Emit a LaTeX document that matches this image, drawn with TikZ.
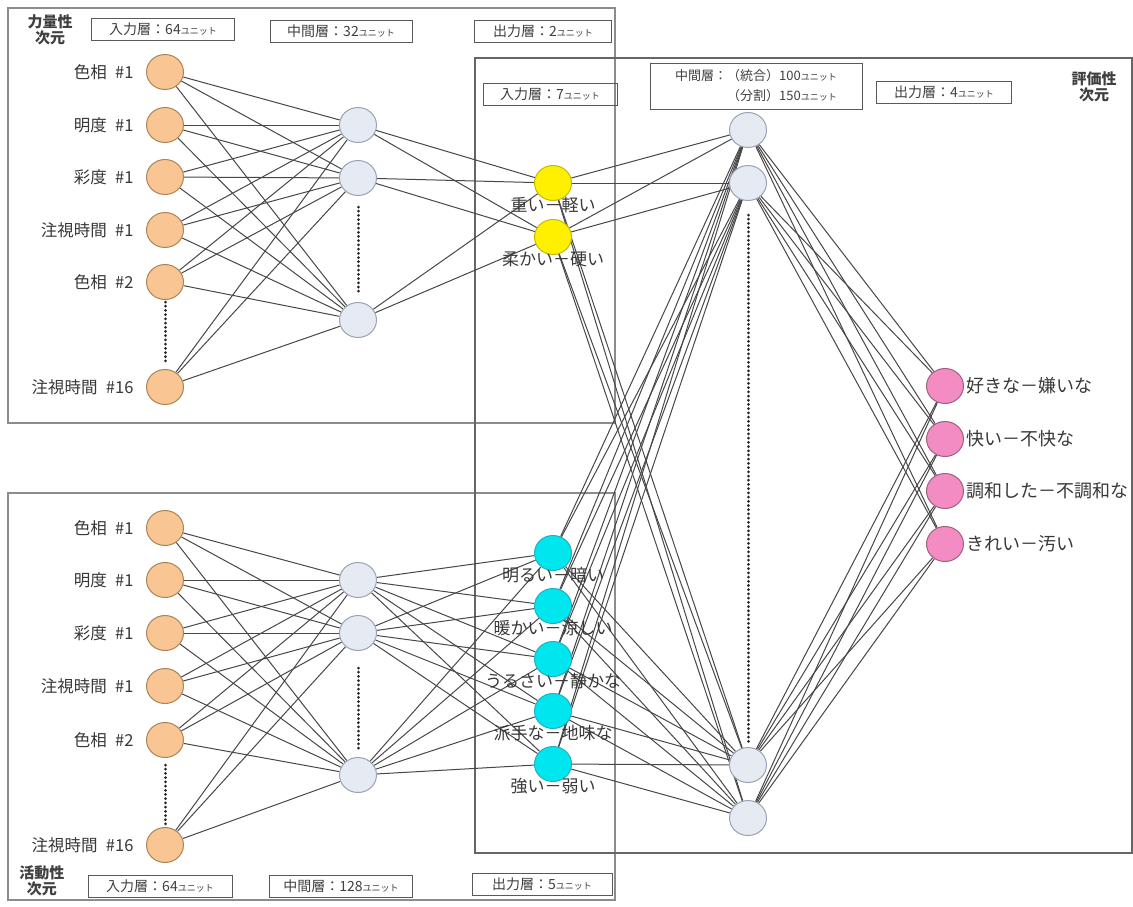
\documentclass[tikz,border=0pt]{standalone}
\usepackage{fontspec}
\setmainfont{Noto Sans CJK JP}
\usetikzlibrary{shapes.geometric,backgrounds}
\definecolor{inO}{HTML}{F9C592}
\definecolor{inOb}{HTML}{A98559}
\definecolor{hidF}{HTML}{E6EAF3}
\definecolor{hidB}{HTML}{9AA3B3}
\definecolor{yelF}{HTML}{FFF000}
\definecolor{yelB}{HTML}{C9B800}
\definecolor{cyF}{HTML}{00E6EF}
\definecolor{cyB}{HTML}{22AFC0}
\definecolor{pkF}{HTML}{F38CC3}
\definecolor{pkB}{HTML}{A0607E}
\definecolor{wire}{HTML}{474747}
\definecolor{frameC}{HTML}{8C8C8C}
\newcommand{\un}{{\fontsize{9}{10}\selectfont ユニット}}
\tikzset{
  neuron/.style={ellipse,minimum width=37pt,minimum height=35pt,inner sep=0pt,line width=1pt},
  inpn/.style={neuron,fill=inO,draw=inOb},
  hidn/.style={neuron,fill=hidF,draw=hidB},
  yeln/.style={neuron,fill=yelF,draw=yelB},
  cyn/.style={neuron,fill=cyF,draw=cyB},
  pkn/.style={neuron,fill=pkF,draw=pkB},
  inlab/.style={label distance=9pt,font=\fontsize{16.5}{17}\selectfont,text=black!78},
  outlab/.style={label distance=-7pt,font=\fontsize{17}{18}\selectfont,text=black!78},
  pklab/.style={label distance=-1pt,font=\fontsize{18}{19}\selectfont,text=black!78},
  hdr/.style={draw=black!65,line width=1pt,minimum height=22pt,inner sep=2pt,font=\fontsize{14}{15}\selectfont,text=black!75},
  dimlab/.style={align=center,font=\fontsize{15}{16}\selectfont\bfseries,text=black!75},
  wirel/.style={draw=wire,line width=1pt},
  dotl/.style={draw=black!85,line width=3pt,line cap=round,dash pattern=on 0.01pt off 4.2pt},
  framel/.style={draw=frameC,line width=1.8pt},
  framer/.style={draw=black!60,line width=1.2pt}
}
\begin{document}
\begin{tikzpicture}[x=1pt,y=-1pt]
\useasboundingbox (0,0) rectangle (1133,906);
% top block nodes
\node[inpn,label={[inlab]left:色相\enspace\#1}] (ti1) at (165,72) {};
\node[inpn,label={[inlab]left:明度\enspace\#1}] (ti2) at (165,125) {};
\node[inpn,label={[inlab]left:彩度\enspace\#1}] (ti3) at (165,177) {};
\node[inpn,label={[inlab]left:注視時間\enspace\#1}] (ti4) at (165,230) {};
\node[inpn,label={[inlab]left:色相\enspace\#2}] (ti5) at (165,282) {};
\node[inpn,label={[inlab]left:注視時間\enspace\#16}] (ti6) at (165,387) {};
\node[hidn] (th1) at (358,125) {};
\node[hidn] (th2) at (358,178) {};
\node[hidn] (th3) at (358,320) {};
\node[yeln,label={[outlab]below:重い－軽い}] (y1) at (553,183) {};
\node[yeln,label={[outlab]below:柔かい－硬い}] (y2) at (553,237) {};
% bottom block nodes
\node[inpn,label={[inlab]left:色相\enspace\#1}] (bi1) at (165,528) {};
\node[inpn,label={[inlab]left:明度\enspace\#1}] (bi2) at (165,580) {};
\node[inpn,label={[inlab]left:彩度\enspace\#1}] (bi3) at (165,633) {};
\node[inpn,label={[inlab]left:注視時間\enspace\#1}] (bi4) at (165,686) {};
\node[inpn,label={[inlab]left:色相\enspace\#2}] (bi5) at (165,740) {};
\node[inpn,label={[inlab]left:注視時間\enspace\#16}] (bi6) at (165,845) {};
\node[hidn] (bh1) at (358,580) {};
\node[hidn] (bh2) at (358,633) {};
\node[hidn] (bh3) at (358,775) {};
\node[cyn,label={[outlab]below:明るい－暗い}] (c1) at (553,553) {};
\node[cyn,label={[outlab]below:暖かい－涼しい}] (c2) at (553,606) {};
\node[cyn,label={[outlab]below:うるさい－静かな}] (c3) at (553,659) {};
\node[cyn,label={[outlab]below:派手な－地味な}] (c4) at (553,711) {};
\node[cyn,label={[outlab]below:強い－弱い}] (c5) at (553,764) {};
% right block nodes
\node[hidn] (H1) at (748,130) {};
\node[hidn] (H2) at (748,183) {};
\node[hidn] (H3) at (748,765) {};
\node[hidn] (H4) at (748,818) {};
\node[pkn,label={[pklab]right:好きな－嫌いな}] (p1) at (945,386) {};
\node[pkn,label={[pklab]right:快い－不快な}] (p2) at (945,439) {};
\node[pkn,label={[pklab]right:調和した－不調和な}] (p3) at (945,491) {};
\node[pkn,label={[pklab]right:きれい－汚い}] (p4) at (945,544) {};
% headers
\node[dimlab] (dimA) at (50,30) {力量性\\次元};
\node[hdr,minimum width=143pt] (hA1) at (163,29) {入力層：64\un};
\node[hdr,minimum width=142pt] (hA2) at (341,31) {中間層：32\un};
\node[hdr,minimum width=137pt] (hA3) at (543,31) {出力層：2\un};
\node[dimlab] (dimB) at (42,881) {活動性\\次元};
\node[hdr,minimum width=144pt] (hB1) at (160,886) {入力層：64\un};
\node[hdr,minimum width=143pt] (hB2) at (341,886) {中間層：128\un};
\node[hdr,minimum width=140pt] (hB3) at (542,884) {出力層：5\un};
\node[hdr,minimum width=134pt] (hC1) at (550,94) {入力層：7\un};
\node[hdr,minimum width=212pt,minimum height=46pt,align=right,font=\fontsize{13}{20}\selectfont] (hC2) at (756,86) {中間層：（統合）100\un\\（分割）150\un};
\node[hdr,minimum width=135pt] (hC3) at (944,92) {出力層：4\un};
\node[dimlab] (dimC) at (1094,87) {評価性\\次元};
% dot markers
\coordinate (d1a) at (165,302); \coordinate (d1b) at (165,362);
\coordinate (d2a) at (358,207); \coordinate (d2b) at (358,295);
\coordinate (d3a) at (165,765); \coordinate (d3b) at (165,825);
\coordinate (d4a) at (358,668); \coordinate (d4b) at (358,752);
\coordinate (d5a) at (748,215); \coordinate (d5b) at (748,742);
\draw[dotl] (d1a) -- (d1b);
\draw[dotl] (d2a) -- (d2b);
\draw[dotl] (d3a) -- (d3b);
\draw[dotl] (d4a) -- (d4b);
\draw[dotl] (d5a) -- (d5b);
\begin{scope}[on background layer]
\fill[white] (0,0) rectangle (1133,906);
\coordinate (fA1) at (8,8); \coordinate (fA2) at (615,423);
\coordinate (fB1) at (8,493); \coordinate (fB2) at (615,900);
\coordinate (fC1) at (475,58); \coordinate (fC2) at (1132,853);
\draw[framel] (fA1) rectangle (fA2);
\draw[framel] (fB1) rectangle (fB2);
\draw[framer] (fC1) rectangle (fC2);
\foreach \i in {1,...,6}{\foreach \j in {1,2,3}{\draw[wirel] (ti\i) -- (th\j); \draw[wirel] (bi\i) -- (bh\j);}}
\foreach \j in {1,2,3}{\foreach \k in {1,2}{\draw[wirel] (th\j) -- (y\k);}
  \foreach \k in {1,...,5}{\draw[wirel] (bh\j) -- (c\k);}}
\foreach \h in {1,...,4}{
  \foreach \k in {1,2}{\draw[wirel] (y\k) -- (H\h);}
  \foreach \k in {1,...,5}{\draw[wirel] (c\k) -- (H\h);}
  \foreach \k in {1,...,4}{\draw[wirel] (H\h) -- (p\k);}}
\end{scope}
\end{tikzpicture}
\end{document}
